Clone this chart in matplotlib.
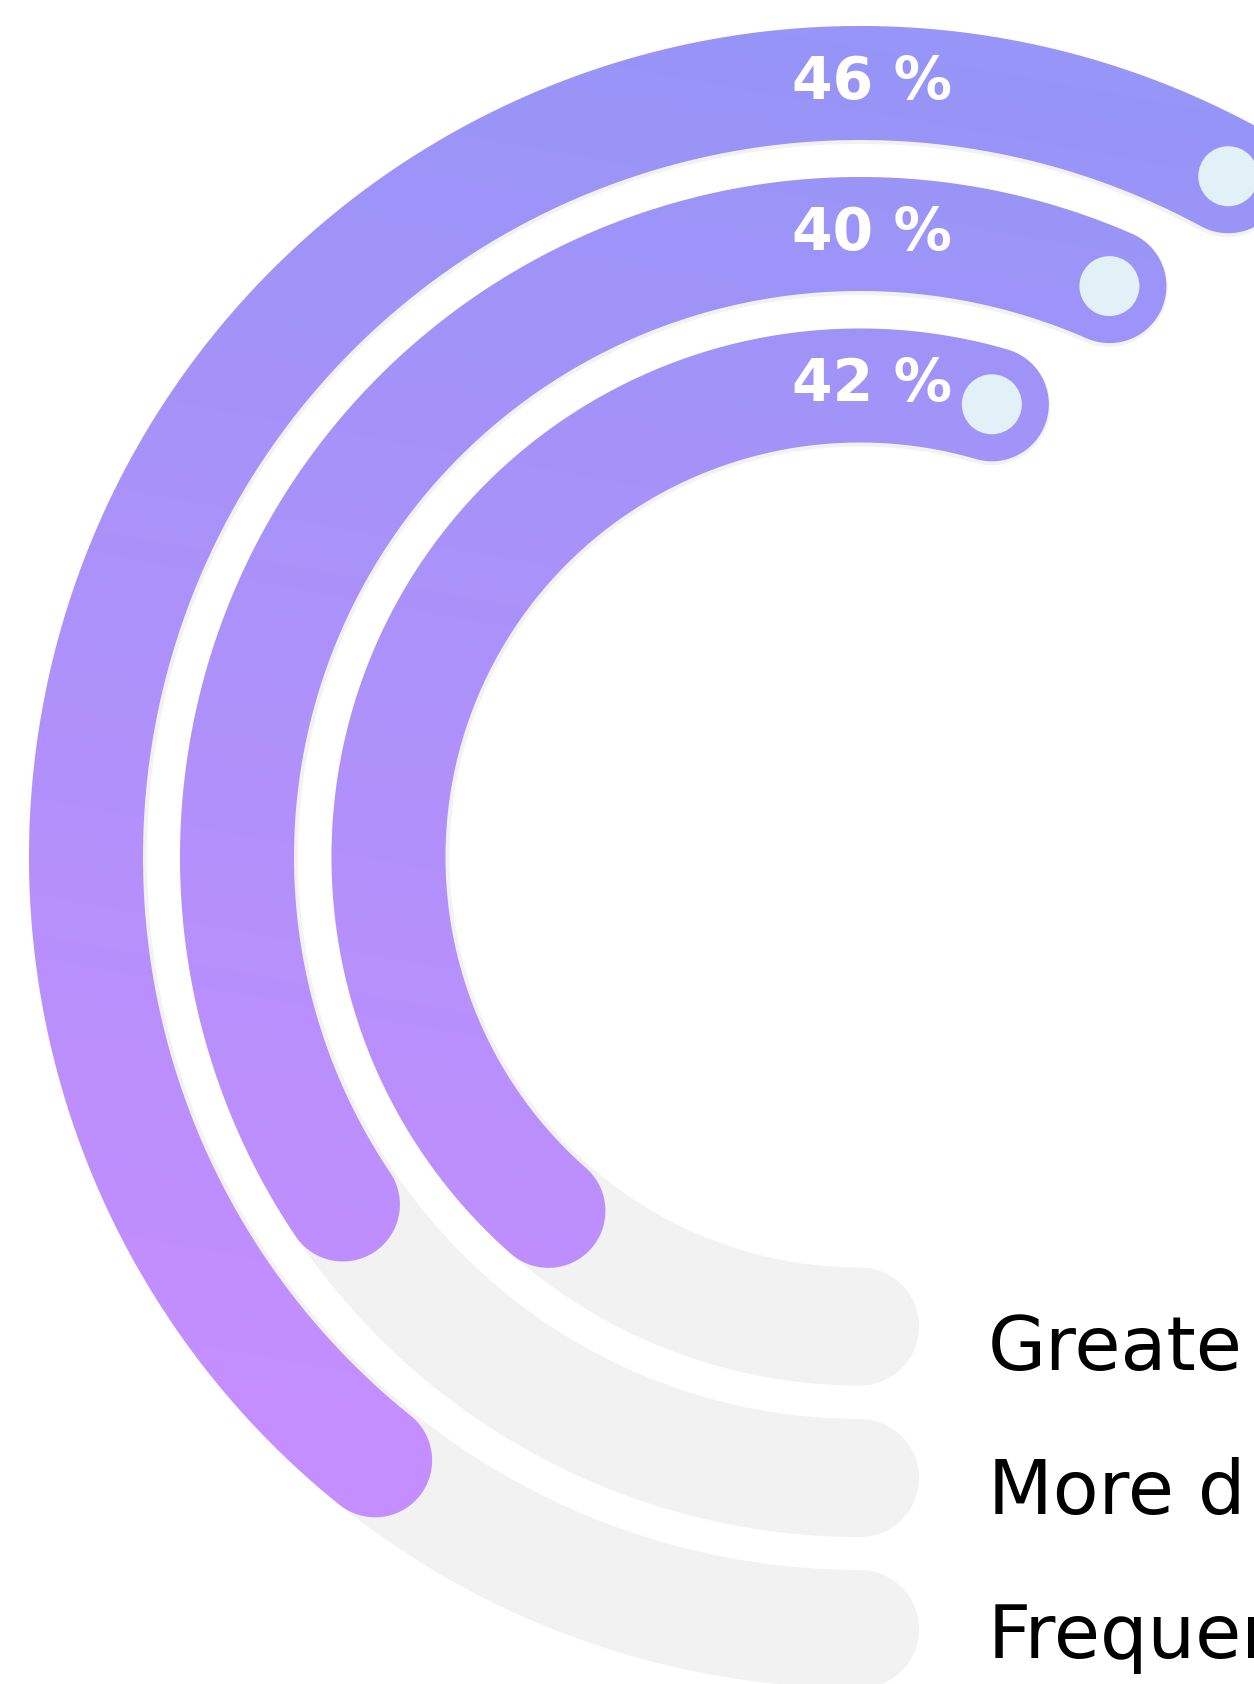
import numpy as np
import matplotlib
matplotlib.use("Agg")
import matplotlib.pyplot as plt
from matplotlib.path import Path
from matplotlib.patches import PathPatch, Circle
from matplotlib.colors import LinearSegmentedColormap

# ---- data ----
categories = ["Greate", "More d", "Frequen"]          # visible (cropped) legend labels, inner -> outer
values = [42, 40, 46]                                 # percent, inner -> outer
value_labels = [f"{v} %" for v in values]

# ---- layout ----
W, H = 1254, 1684
cx, cy = 860, 857
r_mid = [471.5, 623.0, 774.0]       # ring centre radii, inner -> outer
bar_w = 114
mid_angle = [118.8, 129.85, 123.6]  # angular centre of each bar (deg, clockwise from 6 o'clock)
deg_per_pct = 3.6875

purple_top = "#9795f7"
purple_bot = "#c48efe"
track_col = "#f2f2f2"
dot_col = "#e2f0f8"


def pt(r, phi):
    p = np.radians(phi)
    return np.array([cx - r * np.sin(p), cy + r * np.cos(p)])


def rounded_arc(rin, rout, a0, a1, n=500):
    rc = (rin + rout) / 2
    hw = (rout - rin) / 2
    phis = np.linspace(a0, a1, n)
    outer = np.array([pt(rout, p) for p in phis])
    inner = np.array([pt(rin, p) for p in phis[::-1]])
    th = np.linspace(0, np.pi, 60)
    # end cap
    pe = np.radians(a1)
    u = np.array([-np.sin(pe), np.cos(pe)])
    t = np.array([-np.cos(pe), -np.sin(pe)])
    ce = pt(rc, a1)
    cap_e = np.array([ce + hw * (u * np.cos(a) + t * np.sin(a)) for a in th])
    # start cap
    ps = np.radians(a0)
    u0 = np.array([-np.sin(ps), np.cos(ps)])
    t0 = np.array([-np.cos(ps), -np.sin(ps)])
    cs = pt(rc, a0)
    cap_s = np.array([cs + hw * (-u0 * np.cos(a) - t0 * np.sin(a)) for a in th])
    verts = np.vstack([outer, cap_e, inner, cap_s, outer[:1]])
    codes = [Path.MOVETO] + [Path.LINETO] * (len(verts) - 2) + [Path.CLOSEPOLY]
    return Path(verts, codes)


fig = plt.figure(figsize=(W / 100, H / 100), dpi=100)
ax = fig.add_axes([0, 0, 1, 1])
ax.set_xlim(0, W)
ax.set_ylim(H, 0)
ax.axis("off")

# gradient image
gx, gy = np.meshgrid(np.linspace(0, W, 320), np.linspace(0, H, 430))
tval = (gy - 0.18 * (gx - cx) - 40) / 1460.0
tval = np.clip(tval, 0, 1)
cmap = LinearSegmentedColormap.from_list("pg", [purple_top, purple_bot])

for i, (v, rm, ma) in enumerate(zip(values, r_mid, mid_angle)):
    span = v * deg_per_pct
    a0, a1 = ma - span / 2, ma + span / 2
    rin, rout = rm - bar_w / 2, rm + bar_w / 2
    # grey track from 6 o'clock to bar end (slightly wider on the inside)
    track = rounded_arc(rin - 4, rout, 0.0, a1)
    ax.add_patch(PathPatch(track, facecolor=track_col, edgecolor="none", zorder=1))
    bar = rounded_arc(rin, rout, a0, a1)
    patch = PathPatch(bar, facecolor="none", edgecolor="none", zorder=2)
    ax.add_patch(patch)
    im = ax.imshow(tval, cmap=cmap, vmin=0, vmax=1, extent=(0, W, H, 0),
                   origin="upper", interpolation="bilinear", zorder=2, aspect="auto")
    im.set_clip_path(patch)
    # dot at bar end
    ce = pt(rm, a1)
    ax.add_patch(Circle(ce, 30, facecolor=dot_col, edgecolor="none", zorder=3))
    # value label at 12 o'clock
    ax.text(792, cy - rm + 16, value_labels[i], color="white", fontsize=42,
            fontweight="bold", family="DejaVu Sans", ha="left", va="baseline", zorder=4)

ax.set_xlim(0, W)
ax.set_ylim(H, 0)

for i, c in enumerate(categories):
    ax.text(988, 1370 + 144 * i, c, color="#000000", fontsize=54,
            family="DejaVu Sans", ha="left", va="baseline", zorder=4)

fig.savefig("out.png", dpi=100, facecolor="white")
